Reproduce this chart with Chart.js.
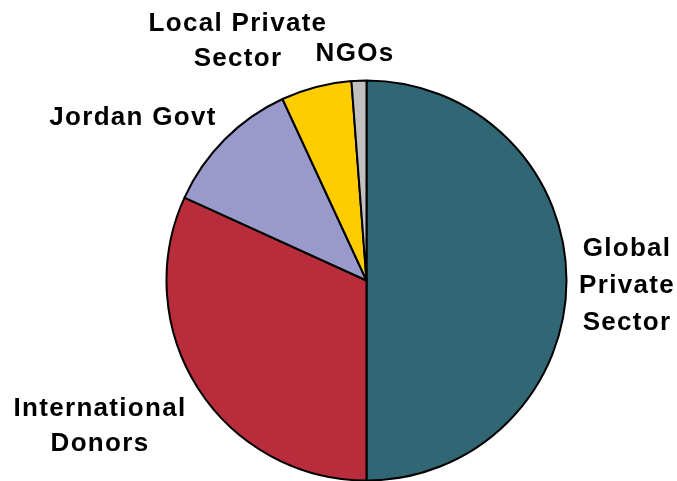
<!DOCTYPE html>
<html>
<head>
<meta charset="utf-8">
<script src="https://cdn.jsdelivr.net/npm/chart.js@4/dist/chart.umd.min.js"></script>
<style>
  html, body { margin: 0; padding: 0; background: #ffffff; }
  #wrap { width: 677px; height: 481px; position: relative; }
</style>
</head>
<body>
<div id="wrap"><canvas id="c" width="677" height="481"></canvas></div>
<script>
// Data (clockwise from 12 o'clock)
const categories = ["Global Private Sector", "International Donors", "Jordan Govt", "Local Private Sector", "NGOs"];
const values = [50.0, 31.8, 11.3, 5.7, 1.2];
const labelLines = [["Global", "Private", "Sector"], ["International", "Donors"], ["Jordan Govt"], ["Local Private", "Sector"], ["NGOs"]];

const sliceColors = ["#316775", "#B82C3C", "#9999CC", "#FFCC00", "#C0C0C0"];

// label placement (center x, first baseline y, line height)
const labelPlacement = [
  { x: 627, y: 256, lh: 37 },
  { x: 100, y: 416, lh: 35 },
  { x: 133, y: 125, lh: 35 },
  { x: 238, y: 31,  lh: 35 },
  { x: 355, y: 61,  lh: 35 }
];

const labelPlugin = {
  id: 'sliceLabels',
  afterDraw(chart) {
    const ctx = chart.ctx;
    ctx.save();
    ctx.font = 'bold 26px "Liberation Sans", Arial, sans-serif';
    ctx.fillStyle = '#000000';
    ctx.textAlign = 'center';
    ctx.textBaseline = 'alphabetic';
    try { ctx.letterSpacing = '1.3px'; } catch (e) {}
    labelLines.forEach((lines, i) => {
      const p = labelPlacement[i];
      lines.forEach((t, j) => {
        ctx.fillText(t, p.x, p.y + j * p.lh);
      });
    });
    ctx.restore();
  }
};

new Chart(document.getElementById('c'), {
  type: 'pie',
  data: {
    labels: categories,
    datasets: [{
      data: values,
      backgroundColor: sliceColors,
      borderColor: '#000000',
      borderWidth: 2
    }]
  },
  options: {
    responsive: false,
    animation: false,
    radius: 200,
    rotation: 0,
    layout: { padding: { left: 166, right: 110, top: 80, bottom: 0 } },
    plugins: {
      legend: { display: false },
      tooltip: { enabled: false }
    }
  },
  plugins: [labelPlugin]
});
</script>
</body>
</html>
